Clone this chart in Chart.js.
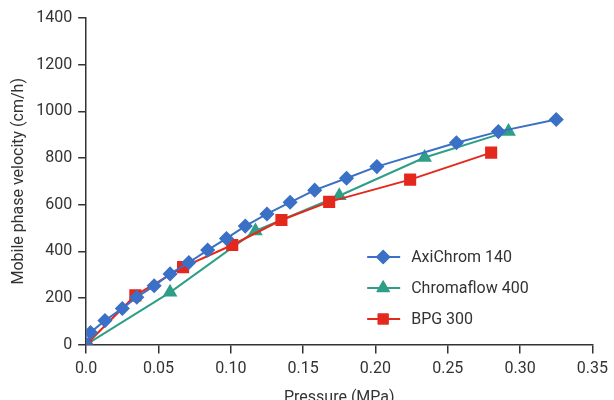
<!DOCTYPE html>
<html>
<head>
<meta charset="utf-8">
<script src="https://cdn.jsdelivr.net/npm/chart.js@4"></script>
<style>
  body { margin: 0; overflow: hidden; background: #fff; }
  #wrap { width: 614px; height: 408px; }
</style>
</head>
<body>
<div id="wrap"><canvas id="chart"></canvas></div>
<script>
// Pressure (MPa) vs mobile phase velocity (cm/h) for three columns
const seriesNames = ['AxiChrom 140', 'Chromaflow 400', 'BPG 300'];

const axiPressure = [0, 0.003, 0.013, 0.025, 0.035, 0.047, 0.058, 0.071, 0.084, 0.097, 0.110, 0.125, 0.141, 0.158, 0.180, 0.201, 0.256, 0.285, 0.325];
const axiVelocity = [0, 52, 103, 155, 203, 252, 303, 352, 405, 455, 508, 560, 610, 662, 713, 763, 865, 913, 965];

const chromaPressure = [0, 0.058, 0.117, 0.175, 0.234, 0.292];
const chromaVelocity = [0, 224, 487, 638, 802, 914];

const bpgPressure = [0, 0.034, 0.067, 0.101, 0.135, 0.168, 0.224, 0.280];
const bpgVelocity = [0, 211, 332, 427, 534, 612, 707, 823];

const xTicks = [0, 0.05, 0.10, 0.15, 0.20, 0.25, 0.30, 0.35];
const yTicks = [0, 200, 400, 600, 800, 1000, 1200, 1400];

const colors = ['#3a70c6', '#2f9e86', '#e5281e'];
const styles = ['rectRot', 'triangle', 'rect'];
const radii = [6.5, 7, 7.5];

const toPoints = (xs, ys) => xs.map((x, i) => ({ x: x, y: ys[i] }));

const FONT = 'Roboto, "Liberation Sans", sans-serif';
const TEXT = '#333333';

// draw one marker the way Chart.js does, for the legend
function marker(ctx, style, x, y, r) {
  ctx.beginPath();
  if (style === 'rectRot') {
    ctx.moveTo(x, y - r); ctx.lineTo(x + r, y); ctx.lineTo(x, y + r); ctx.lineTo(x - r, y);
  } else if (style === 'triangle') {
    ctx.moveTo(x, y - r);
    ctx.lineTo(x + r * 0.866, y + r * 0.5);
    ctx.lineTo(x - r * 0.866, y + r * 0.5);
  } else {
    const s = r * Math.SQRT1_2;
    ctx.rect(x - s, y - s, 2 * s, 2 * s);
  }
  ctx.closePath();
  ctx.fill();
  ctx.stroke();
}

const legendInside = {
  id: 'legendInside',
  afterDatasetsDraw(chart) {
    const { ctx, chartArea } = chart;
    const x0 = chartArea.left + 281;
    const rows = [chartArea.top + 239, chartArea.top + 270, chartArea.top + 301];
    ctx.save();
    ctx.font = '16px ' + FONT;
    ctx.textBaseline = 'middle';
    seriesNames.forEach((name, i) => {
      const y = rows[i];
      ctx.strokeStyle = colors[i];
      ctx.fillStyle = colors[i];
      ctx.lineWidth = 2;
      ctx.lineJoin = 'round';
      ctx.beginPath();
      ctx.moveTo(x0, y);
      ctx.lineTo(x0 + 33, y);
      ctx.stroke();
      ctx.lineWidth = 1.5;
      marker(ctx, styles[i], x0 + 16, y, radii[i] - (i === 2 ? 0.5 : 0));
      ctx.fillStyle = TEXT;
      ctx.fillText(name, x0 + 44, y + 1);
    });
    ctx.restore();
  }
};

const seriesData = [
  toPoints(axiPressure, axiVelocity),
  toPoints(chromaPressure, chromaVelocity),
  toPoints(bpgPressure, bpgVelocity)
];
const drawOrder = [0, 2, 1]; // blue on top, green at the back

const ctx = document.getElementById('chart').getContext('2d');
new Chart(ctx, {
  type: 'line',
  data: {
    datasets: seriesNames.map((name, i) => ({
      label: name,
      data: seriesData[i],
      borderColor: colors[i],
      backgroundColor: colors[i],
      borderWidth: 2,
      pointStyle: styles[i],
      pointRadius: radii[i],
      pointBorderWidth: 1.5,
      pointHoverRadius: radii[i],
      tension: 0,
      order: drawOrder[i]
    }))
  },
  options: {
    responsive: true,
    maintainAspectRatio: false,
    animation: false,
    layout: { padding: { top: 18, right: 6, left: 9, bottom: 0 } },
    plugins: {
      legend: { display: false },
      tooltip: { enabled: false }
    },
    scales: {
      x: {
        type: 'linear',
        min: 0,
        max: 0.35,
        afterBuildTicks: axis => { axis.ticks = xTicks.map(v => ({ value: v })); },
        border: { color: TEXT, width: 1.5 },
        grid: { drawOnChartArea: false, tickLength: 9, color: TEXT, lineWidth: 1.5 },
        ticks: {
          color: TEXT,
          font: { family: FONT, size: 16 },
          padding: 6,
          maxRotation: 0,
          callback: v => v === 0 ? '0.0' : v.toFixed(2)
        },
        title: {
          display: true,
          text: 'Pressure (MPa)',
          color: TEXT,
          font: { family: FONT, size: 16 },
          padding: { top: 4, bottom: 0 }
        }
      },
      y: {
        min: 0,
        max: 1400,
        afterBuildTicks: axis => { axis.ticks = yTicks.map(v => ({ value: v })); },
        border: { color: TEXT, width: 1.5 },
        grid: { drawOnChartArea: false, tickLength: 8, color: TEXT, lineWidth: 1.5 },
        ticks: {
          color: TEXT,
          font: { family: FONT, size: 16 },
          padding: 6,
          callback: v => String(v)
        },
        title: {
          display: true,
          text: 'Mobile phase velocity (cm/h)',
          color: TEXT,
          font: { family: FONT, size: 16 },
          padding: { top: 0, bottom: 2 }
        }
      }
    }
  },
  plugins: [legendInside]
});
</script>
</body>
</html>
